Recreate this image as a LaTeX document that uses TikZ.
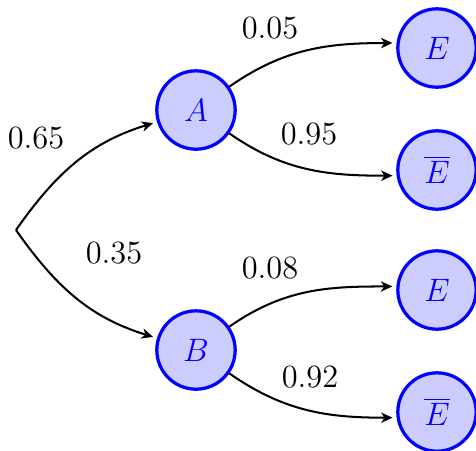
\documentclass[tikz,border=0pt]{standalone}
\usetikzlibrary{arrows.meta}
\begin{document}
\begin{tikzpicture}[x=0.37pt,y=-0.37pt,font=\large,
  state/.style={circle,draw=blue,fill=blue!20,line width=1.2pt,minimum size=29pt,inner sep=0pt,text=blue},
  edge/.style={line width=0.75pt,-{Stealth[length=4.2pt,width=3.8pt,inset=1.2pt]},shorten >=1.5pt},
  prob/.style={inner sep=0pt}]
\useasboundingbox (0,0) rectangle (476,450);
\coordinate (S) at (16,230);
\node[state] (A) at (196,110) {$A$};
\node[state] (B) at (196,350) {$B$};
\node[state] (E1) at (437,48) {$E$};
\node[state] (E2) at (437,170) {$\overline{E}$};
\node[state] (E3) at (437,290) {$E$};
\node[state] (E4) at (437,412) {$\overline{E}$};
\draw[edge] (S) to[out=55,in=197] (A);
\draw[edge] (S) to[out=-55,in=163] (B);
\draw[edge] (A) to[out=35,in=180] (E1.173);
\draw[edge] (A) to[out=-35,in=180] (E2.188);
\draw[edge] (B) to[out=35,in=180] (E3.175);
\draw[edge] (B) to[out=-35,in=180] (E4.188);
\node[prob] (p1) at (36,138) {0.65};
\node[prob] (p2) at (114,253) {0.35};
\node[prob] (p3) at (270,28) {0.05};
\node[prob] (p4) at (309,134) {0.95};
\node[prob] (p5) at (270,268) {0.08};
\node[prob] (p6) at (310,377) {0.92};
\end{tikzpicture}
\end{document}
